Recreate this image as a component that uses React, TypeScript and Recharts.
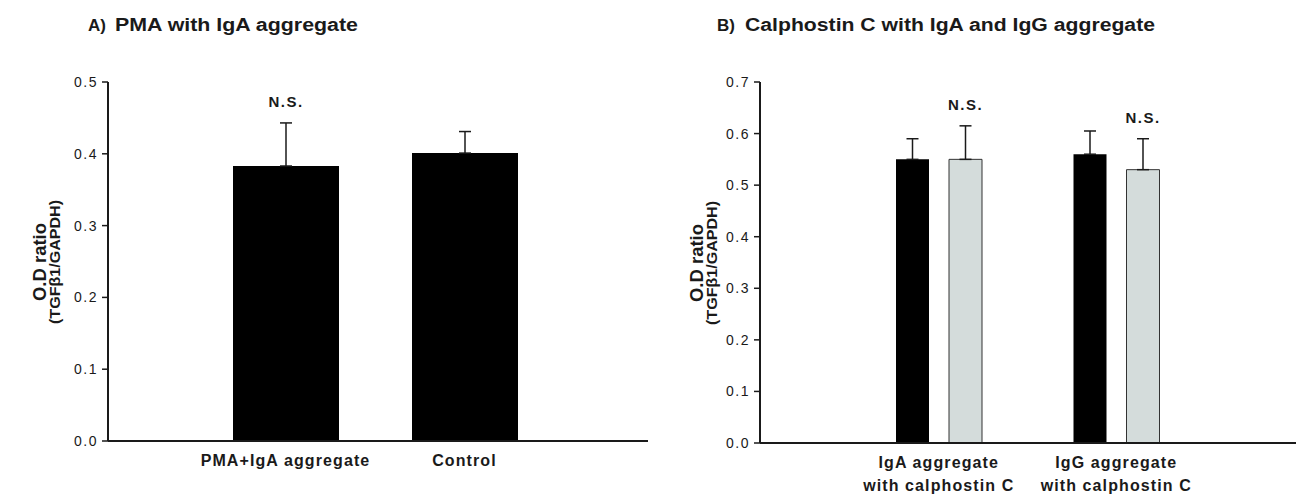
import React from "react";
import { Bar, BarChart, ErrorBar, LabelList, XAxis, YAxis } from "recharts";

// Panel A: PMA with IgA aggregate
const panelACategories = ["PMA+IgA aggregate", "Control"];
const panelAValues = [0.383, 0.401];
const panelAErrors = [0.06, 0.03];
const panelANotes = ["N.S.", ""];
const panelATicks = [0, 0.1, 0.2, 0.3, 0.4, 0.5];

// Panel B: Calphostin C with IgA and IgG aggregate
const panelBCategories = ["IgA aggregate\nwith calphostin C", "IgG aggregate\nwith calphostin C"];
const panelBAggregate = [0.55, 0.56];
const panelBAggregateErrors = [0.04, 0.045];
const panelBCalphostin = [0.55, 0.53];
const panelBCalphostinErrors = [0.065, 0.06];
const panelBNotes = ["N.S.", "N.S."];
const panelBTicks = [0, 0.1, 0.2, 0.3, 0.4, 0.5, 0.6, 0.7];

const FONT = '"Liberation Sans", Arial, Helvetica, sans-serif';
const INK = "#1a1a1a";

const dataA = panelACategories.map((name, i) => ({
  name,
  value: panelAValues[i],
  err: [0, panelAErrors[i]],
  note: panelANotes[i],
}));

const dataB = panelBCategories.map((name, i) => ({
  name,
  aggregate: panelBAggregate[i],
  aggregateErr: [0, panelBAggregateErrors[i]],
  calphostin: panelBCalphostin[i],
  calphostinErr: [0, panelBCalphostinErrors[i]],
  note: panelBNotes[i],
}));

// "N.S." sits a little above the top of the error bar
const noteLabel = (values: number[], errors: number[]) => (props: any) => {
  const { x, y, width, height, value, index } = props;
  if (!value) return null;
  const perUnit = height / values[index];
  const capY = y - errors[index] * perUnit;
  return (
    <text
      x={x + width / 2}
      y={capY - 16}
      textAnchor="middle"
      fontFamily={FONT}
      fontWeight="bold"
      fontSize={15}
      letterSpacing={1.5}
      fill={INK}
    >
      {value}
    </text>
  );
};

const CategoryTick = (props: any) => {
  const { x, y, payload } = props;
  const lines = String(payload.value).split("\n");
  return (
    <text
      x={x}
      y={y}
      textAnchor="middle"
      fontFamily={FONT}
      fontWeight="bold"
      fontSize={16}
      letterSpacing={1.1}
      fill={INK}
    >
      {lines.map((l, i) => (
        <tspan key={i} x={x} dy={i === 0 ? 17 : 23}>
          {l}
        </tspan>
      ))}
    </text>
  );
};

const yTick = { fontFamily: FONT, fontSize: 14, fill: INK, letterSpacing: 1.5 };
const fmt = (v: number) => v.toFixed(1);

function YTitle({ x1, x2, cy }: { x1: number; x2: number; cy: number }) {
  return (
    <g fontFamily={FONT} fontWeight="bold" fill={INK}>
      <text
        x={x1}
        y={cy}
        transform={`rotate(-90 ${x1} ${cy})`}
        textAnchor="middle"
        fontSize={18}
        textLength={78}
        lengthAdjust="spacingAndGlyphs"
      >
        O.D ratio
      </text>
      <text
        x={x2}
        y={cy}
        transform={`rotate(-90 ${x2} ${cy})`}
        textAnchor="middle"
        fontSize={14}
        textLength={124}
        lengthAdjust="spacingAndGlyphs"
      >
        (TGFβ1/GAPDH)
      </text>
    </g>
  );
}

export default function App() {
  return (
    <div style={{ position: "absolute", left: 0, top: 0, width: 1297, height: 494, background: "#fff" }}>
      <div style={{ position: "absolute", left: 0, top: 0 }}>
        <BarChart width={650} height={494} data={dataA} margin={{ top: 82, right: 2, bottom: 13, left: 0 }}>
          <XAxis
            dataKey="name"
            height={40}
            padding={{ left: 88, right: 94 }}
            axisLine={{ stroke: INK, strokeWidth: 2 }}
            tickLine={false}
            tick={<CategoryTick />}
            interval={0}
          />
          <YAxis
            width={108}
            domain={[0, 0.5]}
            ticks={panelATicks}
            tickFormatter={fmt}
            tick={yTick}
            tickSize={6}
            tickMargin={4}
            axisLine={{ stroke: INK, strokeWidth: 2 }}
            tickLine={{ stroke: INK, strokeWidth: 1.5 }}
          />
          <Bar dataKey="value" fill="#000" barSize={106} isAnimationActive={false}>
            <ErrorBar dataKey="err" direction="y" width={6} stroke={INK} strokeWidth={1.5} />
            <LabelList dataKey="note" content={noteLabel(panelAValues, panelAErrors)} />
          </Bar>
        </BarChart>
      </div>
      <div style={{ position: "absolute", left: 650, top: 0 }}>
        <BarChart width={647} height={494} data={dataB} barGap={20} margin={{ top: 82, right: 1, bottom: 11, left: 0 }}>
          <XAxis
            dataKey="name"
            height={40}
            padding={{ left: 90, right: 91 }}
            axisLine={{ stroke: INK, strokeWidth: 2 }}
            tickLine={false}
            tick={<CategoryTick />}
            interval={0}
          />
          <YAxis
            width={110}
            domain={[0, 0.7]}
            ticks={panelBTicks}
            tickFormatter={fmt}
            tick={yTick}
            tickSize={6}
            tickMargin={4}
            axisLine={{ stroke: INK, strokeWidth: 2 }}
            tickLine={{ stroke: INK, strokeWidth: 1.5 }}
          />
          <Bar dataKey="aggregate" fill="#000" barSize={33} isAnimationActive={false}>
            <ErrorBar dataKey="aggregateErr" direction="y" width={6} stroke={INK} strokeWidth={1.5} />
          </Bar>
          <Bar dataKey="calphostin" fill="#d4dcdb" stroke="#333" strokeWidth={1} barSize={33} isAnimationActive={false}>
            <ErrorBar dataKey="calphostinErr" direction="y" width={6} stroke={INK} strokeWidth={1.5} />
            <LabelList dataKey="note" content={noteLabel(panelBCalphostin, panelBCalphostinErrors)} />
          </Bar>
        </BarChart>
      </div>
      <svg width={1297} height={494} style={{ position: "absolute", left: 0, top: 0, pointerEvents: "none" }}>
        <g fontFamily={FONT} fontWeight="bold" fill={INK}>
          <text x={88} y={31} fontSize={17}>A)</text>
          <text x={115} y={31} fontSize={18} textLength={243} lengthAdjust="spacingAndGlyphs">
            PMA with IgA aggregate
          </text>
          <text x={717} y={31} fontSize={17}>B)</text>
          <text x={745} y={31} fontSize={18} textLength={410} lengthAdjust="spacingAndGlyphs">
            Calphostin C with IgA and IgG aggregate
          </text>
        </g>
        <YTitle x1={46} x2={60} cy={262} />
        <YTitle x1={703} x2={717} cy={263} />
      </svg>
    </div>
  );
}
